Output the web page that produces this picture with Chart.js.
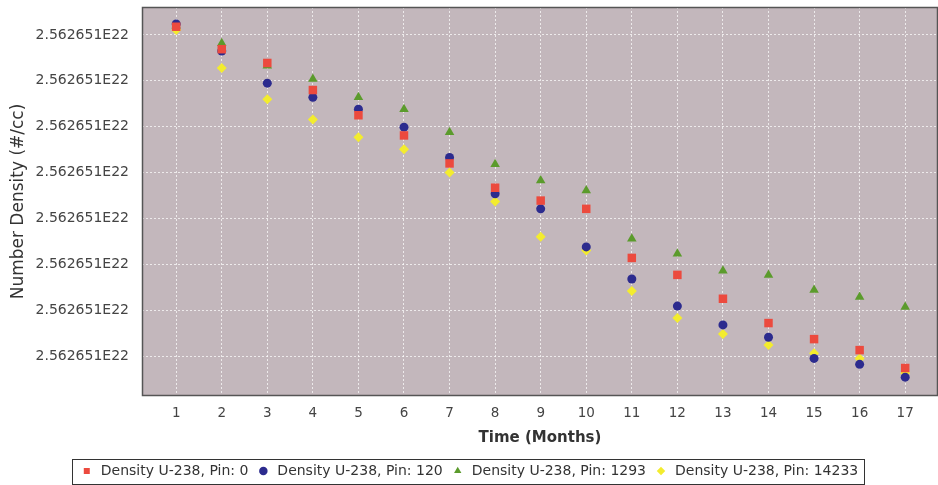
<!DOCTYPE html>
<html>
<head>
<meta charset="utf-8">
<script src="https://cdn.jsdelivr.net/npm/chart.js@4"></script>
<style>
  html, body { margin: 0; padding: 0; background: #fff; }
  #wrap { width: 938px; height: 485px; }
</style>
</head>
<body>
<div id="wrap"><canvas id="densityChart" width="938" height="485"></canvas></div>
<script>
// Time axis (months)
const months = [1, 2, 3, 4, 5, 6, 7, 8, 9, 10, 11, 12, 13, 14, 15, 16, 17];

// Every tick label rounds to 2.562651E22, so values are kept as offsets
// measured in grid steps (tick 1 = lowest gridline, tick 8 = top one)
const yTicks = [1, 2, 3, 4, 5, 6, 7, 8];
const tickLabel = "2.562651E22";

const pin0     = [8.18, 7.69, 7.39, 6.80, 6.25, 5.81, 5.20, 4.67, 4.39, 4.21, 3.14, 2.77, 2.25, 1.72, 1.37, 1.13, 0.74];
const pin120   = [8.24, 7.65, 6.95, 6.64, 6.38, 5.99, 5.33, 4.54, 4.21, 3.38, 2.68, 2.09, 1.68, 1.41, 0.95, 0.82, 0.54];
const pin1293  = [8.20, 7.82, 7.33, 7.04, 6.64, 6.38, 5.88, 5.18, 4.83, 4.61, 3.56, 3.23, 2.86, 2.77, 2.44, 2.29, 2.07];
const pin14233 = [8.11, 7.28, 6.60, 6.16, 5.77, 5.51, 5.00, 4.37, 3.60, 3.30, 2.42, 1.83, 1.48, 1.24, 1.06, 0.95, 0.63];

const FONT = "'DejaVu Sans', Verdana, sans-serif";

function pts(vals) {
  return months.map((m, i) => ({ x: m, y: vals[i] }));
}

// plot background + frame, and a box around the legend
const plotFrame = {
  id: "plotFrame",
  beforeDraw(chart) {
    const { ctx, chartArea: a } = chart;
    ctx.save();
    ctx.fillStyle = "#c3b7bc";
    ctx.fillRect(a.left, a.top, a.right - a.left, a.bottom - a.top);
    ctx.restore();
  },
  afterDatasetsDraw(chart) {
    const { ctx, chartArea: a } = chart;
    ctx.save();
    ctx.strokeStyle = "#555";
    ctx.lineWidth = 1.5;
    ctx.strokeRect(a.left + 0.5, a.top + 0.5, a.right - a.left - 1, a.bottom - a.top - 1);
    ctx.restore();
  },
  afterDraw(chart) {
    const lg = chart.legend;
    if (!lg || !lg.legendHitBoxes.length) return;
    const boxes = lg.legendHitBoxes;
    const left = Math.min(...boxes.map(b => b.left)) - 8;
    const right = Math.max(...boxes.map(b => b.left + b.width)) + 6;
    const top = Math.min(...boxes.map(b => b.top)) - 5;
    const bottom = Math.max(...boxes.map(b => b.top + b.height)) + 6;
    const { ctx } = chart;
    ctx.save();
    ctx.strokeStyle = "#333";
    ctx.lineWidth = 1;
    ctx.strokeRect(Math.round(left) + 0.5, Math.round(top) + 0.5, Math.round(right - left), Math.round(bottom - top));
    ctx.restore();
  }
};

const ctx = document.getElementById("densityChart").getContext("2d");

new Chart(ctx, {
  type: "scatter",
  data: {
    datasets: [
      {
        label: "Density U-238, Pin: 0",
        data: pts(pin0),
        pointStyle: "rect",
        pointRadius: 6,
        backgroundColor: "#ec4a3e",
        borderColor: "#ec4a3e",
        borderWidth: 0
      },
      {
        label: "Density U-238, Pin: 120",
        data: pts(pin120),
        pointStyle: "circle",
        pointRadius: 4.5,
        backgroundColor: "#2c2b8e",
        borderColor: "#2c2b8e",
        borderWidth: 0
      },
      {
        label: "Density U-238, Pin: 1293",
        data: pts(pin1293),
        pointStyle: "triangle",
        pointRadius: 5.5,
        backgroundColor: "#5b9b2c",
        borderColor: "#5b9b2c",
        borderWidth: 0
      },
      {
        label: "Density U-238, Pin: 14233",
        data: pts(pin14233),
        pointStyle: "rectRot",
        pointRadius: 5,
        backgroundColor: "#f3ec2e",
        borderColor: "#f3ec2e",
        borderWidth: 0
      }
    ]
  },
  options: {
    responsive: false,
    animation: false,
    layout: { autoPadding: false, padding: { top: 7, right: 0, left: 0, bottom: -3 } },
    scales: {
      x: {
        type: "linear",
        min: 0.25,
        max: 17.72,
        afterBuildTicks: (s) => { s.ticks = months.map(v => ({ value: v })); },
        afterFit: (s) => { s.height = 60; s.paddingLeft = 0; s.paddingRight = 0; },
        grid: {
          color: "rgba(255,255,255,0.7)",
          drawTicks: false
        },
        border: { display: false, dash: [2, 2] },
        ticks: {
          color: "#444",
          font: { family: FONT, size: 13.5 },
          padding: 9
        },
        title: {
          display: true,
          text: "Time (Months)",
          color: "#333",
          font: { family: FONT, size: 15, weight: "bold" },
          padding: { top: 2, bottom: 9 }
        }
      },
      y: {
        type: "linear",
        min: 0.13,
        max: 8.61,
        afterBuildTicks: (s) => { s.ticks = yTicks.map(v => ({ value: v })); },
        afterFit: (s) => { s.width = 142; s.paddingTop = 0; s.paddingBottom = 0; },
        grid: {
          color: "rgba(255,255,255,0.7)",
          drawTicks: false
        },
        border: { display: false, dash: [2, 2] },
        ticks: {
          color: "#444",
          font: { family: FONT, size: 14 },
          padding: 13,
          callback: () => tickLabel
        },
        title: {
          display: true,
          text: "Number Density (#/cc)",
          color: "#333",
          font: { family: FONT, size: 17 },
          padding: { top: 8, bottom: 0 }
        }
      }
    },
    plugins: {
      legend: {
        position: "bottom",
        labels: {
          usePointStyle: true,
          boxWidth: 14,
          boxHeight: 6,
          padding: 8,
          color: "#333",
          font: { family: FONT, size: 14 }
        }
      },
      tooltip: { enabled: false }
    }
  },
  plugins: [plotFrame]
});
</script>
</body>
</html>
